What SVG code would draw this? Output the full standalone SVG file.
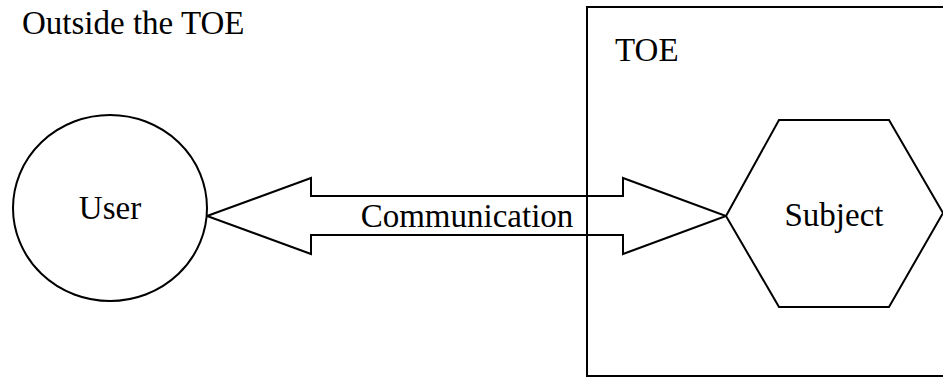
<svg xmlns="http://www.w3.org/2000/svg" width="943" height="378" viewBox="0 0 943 378">
<style>
.s{fill:#fff;stroke:#000;stroke-width:2}
.t{font-family:"Liberation Serif","Times New Roman",serif;font-size:33px;fill:#000}
</style>
<rect width="943" height="378" fill="#fff"/>
<g id="toe-boundary">
<rect class="s" x="587" y="7" width="370" height="369"/>
<text class="t" x="615" y="61">TOE</text>
</g>
<g id="outside-label">
<text class="t" x="22" y="34">Outside the TOE</text>
</g>
<g id="connectors">
<path class="s" d="M207,216 L311,178 L311,196 L623,196 L623,178 L726,216 L623,254 L623,235 L311,235 L311,254 Z"/>
<line x1="587" y1="196" x2="587" y2="235" stroke="#000" stroke-width="2"/>
<text class="t" x="467" y="227" text-anchor="middle">Communication</text>
</g>
<g id="user">
<ellipse class="s" cx="110" cy="208" rx="97" ry="93"/>
<text class="t" x="110" y="219" text-anchor="middle">User</text>
</g>
<g id="subject">
<polygon class="s" points="726,216 779,120 889,120 943,213 889,307 779,307"/>
<text class="t" x="834" y="226" text-anchor="middle">Subject</text>
</g>
</svg>
